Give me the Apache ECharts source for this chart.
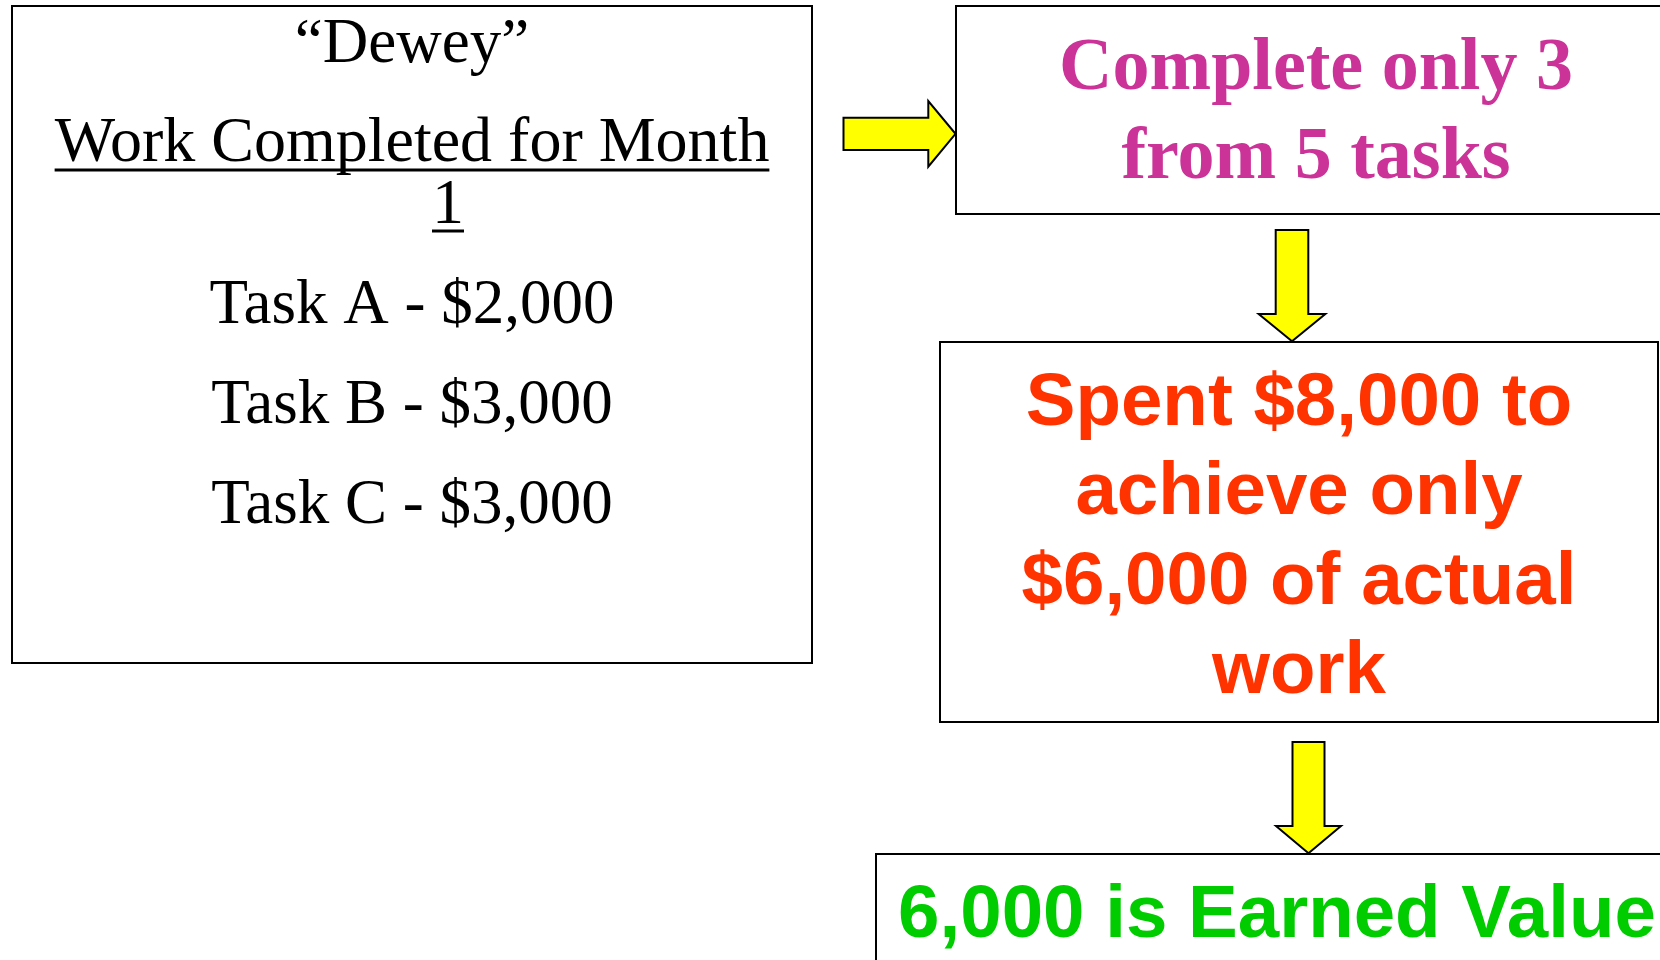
<!DOCTYPE html>
<html>
<head>
<meta charset="utf-8">
<script src="https://cdn.jsdelivr.net/npm/echarts@6/dist/echarts.min.js"></script>
<style>
html,body{margin:0;padding:0;background:#ffffff;}
#chart{width:1660px;height:960px;}
</style>
</head>
<body>
<div id="chart"></div>
<script>
// ---- content ----
const deweyTitle = '“Dewey”';
const headingLines = ['Work Completed for Month', '1'];
const taskNames = ['Task A', 'Task B', 'Task C'];
const taskCosts = [2000, 3000, 3000];
const step1Lines = ['Complete only 3', 'from 5 tasks'];
const step2Lines = ['Spent $8,000 to', 'achieve only', '$6,000 of actual', 'work'];
const step3Lines = ['6,000 is Earned Value'];

// ---- styling / layout ----
const SERIF = '"Liberation Serif", "Times New Roman", Times, serif';
const SANS = '"Liberation Sans", Arial, Helvetica, sans-serif';
const FONT_LEFT = '63px ' + SERIF;
const FONT_HEADING = '64px ' + SERIF;
const FONT_STEP1 = 'bold 74px ' + SERIF;
const FONT_BOLD_SANS = 'bold 74.5px ' + SANS;
const COLOR_STEP1 = '#CC3399';
const COLOR_STEP2 = '#FF3300';
const COLOR_STEP3 = '#00CC00';
const ARROW_FILL = '#FFFF00';

const mctx = document.createElement('canvas').getContext('2d');
function baselineOffset(font) {
  mctx.font = font;
  mctx.textBaseline = 'middle';
  return mctx.measureText('H').actualBoundingBoxDescent;
}
function textWidth(font, s) {
  mctx.font = font;
  mctx.textBaseline = 'alphabetic';
  return mctx.measureText(s).width;
}
function textEl(str, cx, baseline, font, color) {
  const off = baselineOffset(font);
  return {
    type: 'text', x: cx, y: baseline - off, z: 10,
    style: {
      text: str, font: font, fill: color,
      align: 'center', verticalAlign: 'middle',
      textAlign: 'center', textVerticalAlign: 'middle'
    }
  };
}
function boxEl(x, y, w, h) {
  return {
    type: 'rect', z: 1,
    shape: { x: x, y: y, width: w, height: h },
    style: { fill: '#ffffff', stroke: '#000000', lineWidth: 2 }
  };
}
function lineEl(x1, x2, y, w) {
  return {
    type: 'line', z: 10,
    shape: { x1: x1, y1: y, x2: x2, y2: y },
    style: { stroke: '#000000', lineWidth: w }
  };
}
function arrowRight(x0, shaftTop, shaftBot, headX, headTop, headBot, tipX) {
  const cy = (shaftTop + shaftBot) / 2;
  return {
    type: 'polygon', z: 20,
    shape: { points: [[x0, shaftTop], [headX, shaftTop], [headX, headTop], [tipX, cy],
                      [headX, headBot], [headX, shaftBot], [x0, shaftBot]] },
    style: { fill: ARROW_FILL, stroke: '#000000', lineWidth: 2, lineJoin: 'miter' }
  };
}
function arrowDown(cx, shaftW, headW, y0, headY, tipY) {
  const s = shaftW / 2, h = headW / 2;
  return {
    type: 'polygon', z: 20,
    shape: { points: [[cx - s, y0], [cx + s, y0], [cx + s, headY], [cx + h, headY],
                      [cx, tipY], [cx - h, headY], [cx - s, headY]] },
    style: { fill: ARROW_FILL, stroke: '#000000', lineWidth: 2, lineJoin: 'miter' }
  };
}

const elements = [];

// Left box
const leftBox = { x: 12, y: 6, w: 800, h: 657 };
const leftCx = leftBox.x + leftBox.w / 2;
elements.push(boxEl(leftBox.x, leftBox.y, leftBox.w, leftBox.h));
elements.push(textEl(deweyTitle, leftCx, 61.5, FONT_LEFT, '#000000'));
const headingBaselines = [161, 223];
const headingCx = [leftCx, 448];
const underlineGap = [9, 8];
headingLines.forEach(function (s, i) {
  elements.push(textEl(s, headingCx[i], headingBaselines[i], FONT_HEADING, '#000000'));
  const w = textWidth(FONT_HEADING, s);
  elements.push(lineEl(headingCx[i] - w / 2, headingCx[i] + w / 2, headingBaselines[i] + underlineGap[i], 3));
});
taskNames.forEach(function (name, i) {
  const label = name + ' - $' + taskCosts[i].toLocaleString('en-US');
  elements.push(textEl(label, leftCx, 323.3 + i * 100, FONT_LEFT, '#000000'));
});

// Step 1 box
const b1 = { x: 956, y: 6, w: 720, h: 208 };
elements.push(boxEl(b1.x, b1.y, b1.w, b1.h));
step1Lines.forEach(function (s, i) {
  elements.push(textEl(s, b1.x + b1.w / 2, 88.5 + i * 89, FONT_STEP1, COLOR_STEP1));
});

// Step 2 box
const b2 = { x: 940, y: 342, w: 718, h: 380 };
elements.push(boxEl(b2.x, b2.y, b2.w, b2.h));
step2Lines.forEach(function (s, i) {
  elements.push(textEl(s, b2.x + b2.w / 2, 425 + i * 89.3, FONT_BOLD_SANS, COLOR_STEP2));
});

// Step 3 box
const b3 = { x: 876, y: 854, w: 802, h: 200 };
elements.push(boxEl(b3.x, b3.y, b3.w, b3.h));
step3Lines.forEach(function (s, i) {
  elements.push(textEl(s, b3.x + b3.w / 2, 936.7 + i * 89, FONT_BOLD_SANS, COLOR_STEP3));
});

// Arrows
elements.push(arrowRight(843.5, 117.7, 150, 928.3, 101, 166.7, 955.5));
elements.push(arrowDown(1292, 32.6, 66.7, 230, 314, 341.3));
elements.push(arrowDown(1308.5, 32, 65, 742, 826, 853.3));

const chart = echarts.init(document.getElementById('chart'), null, { renderer: 'canvas' });
chart.setOption({
  backgroundColor: '#ffffff',
  animation: false,
  graphic: { elements: elements }
});
</script>
</body>
</html>
